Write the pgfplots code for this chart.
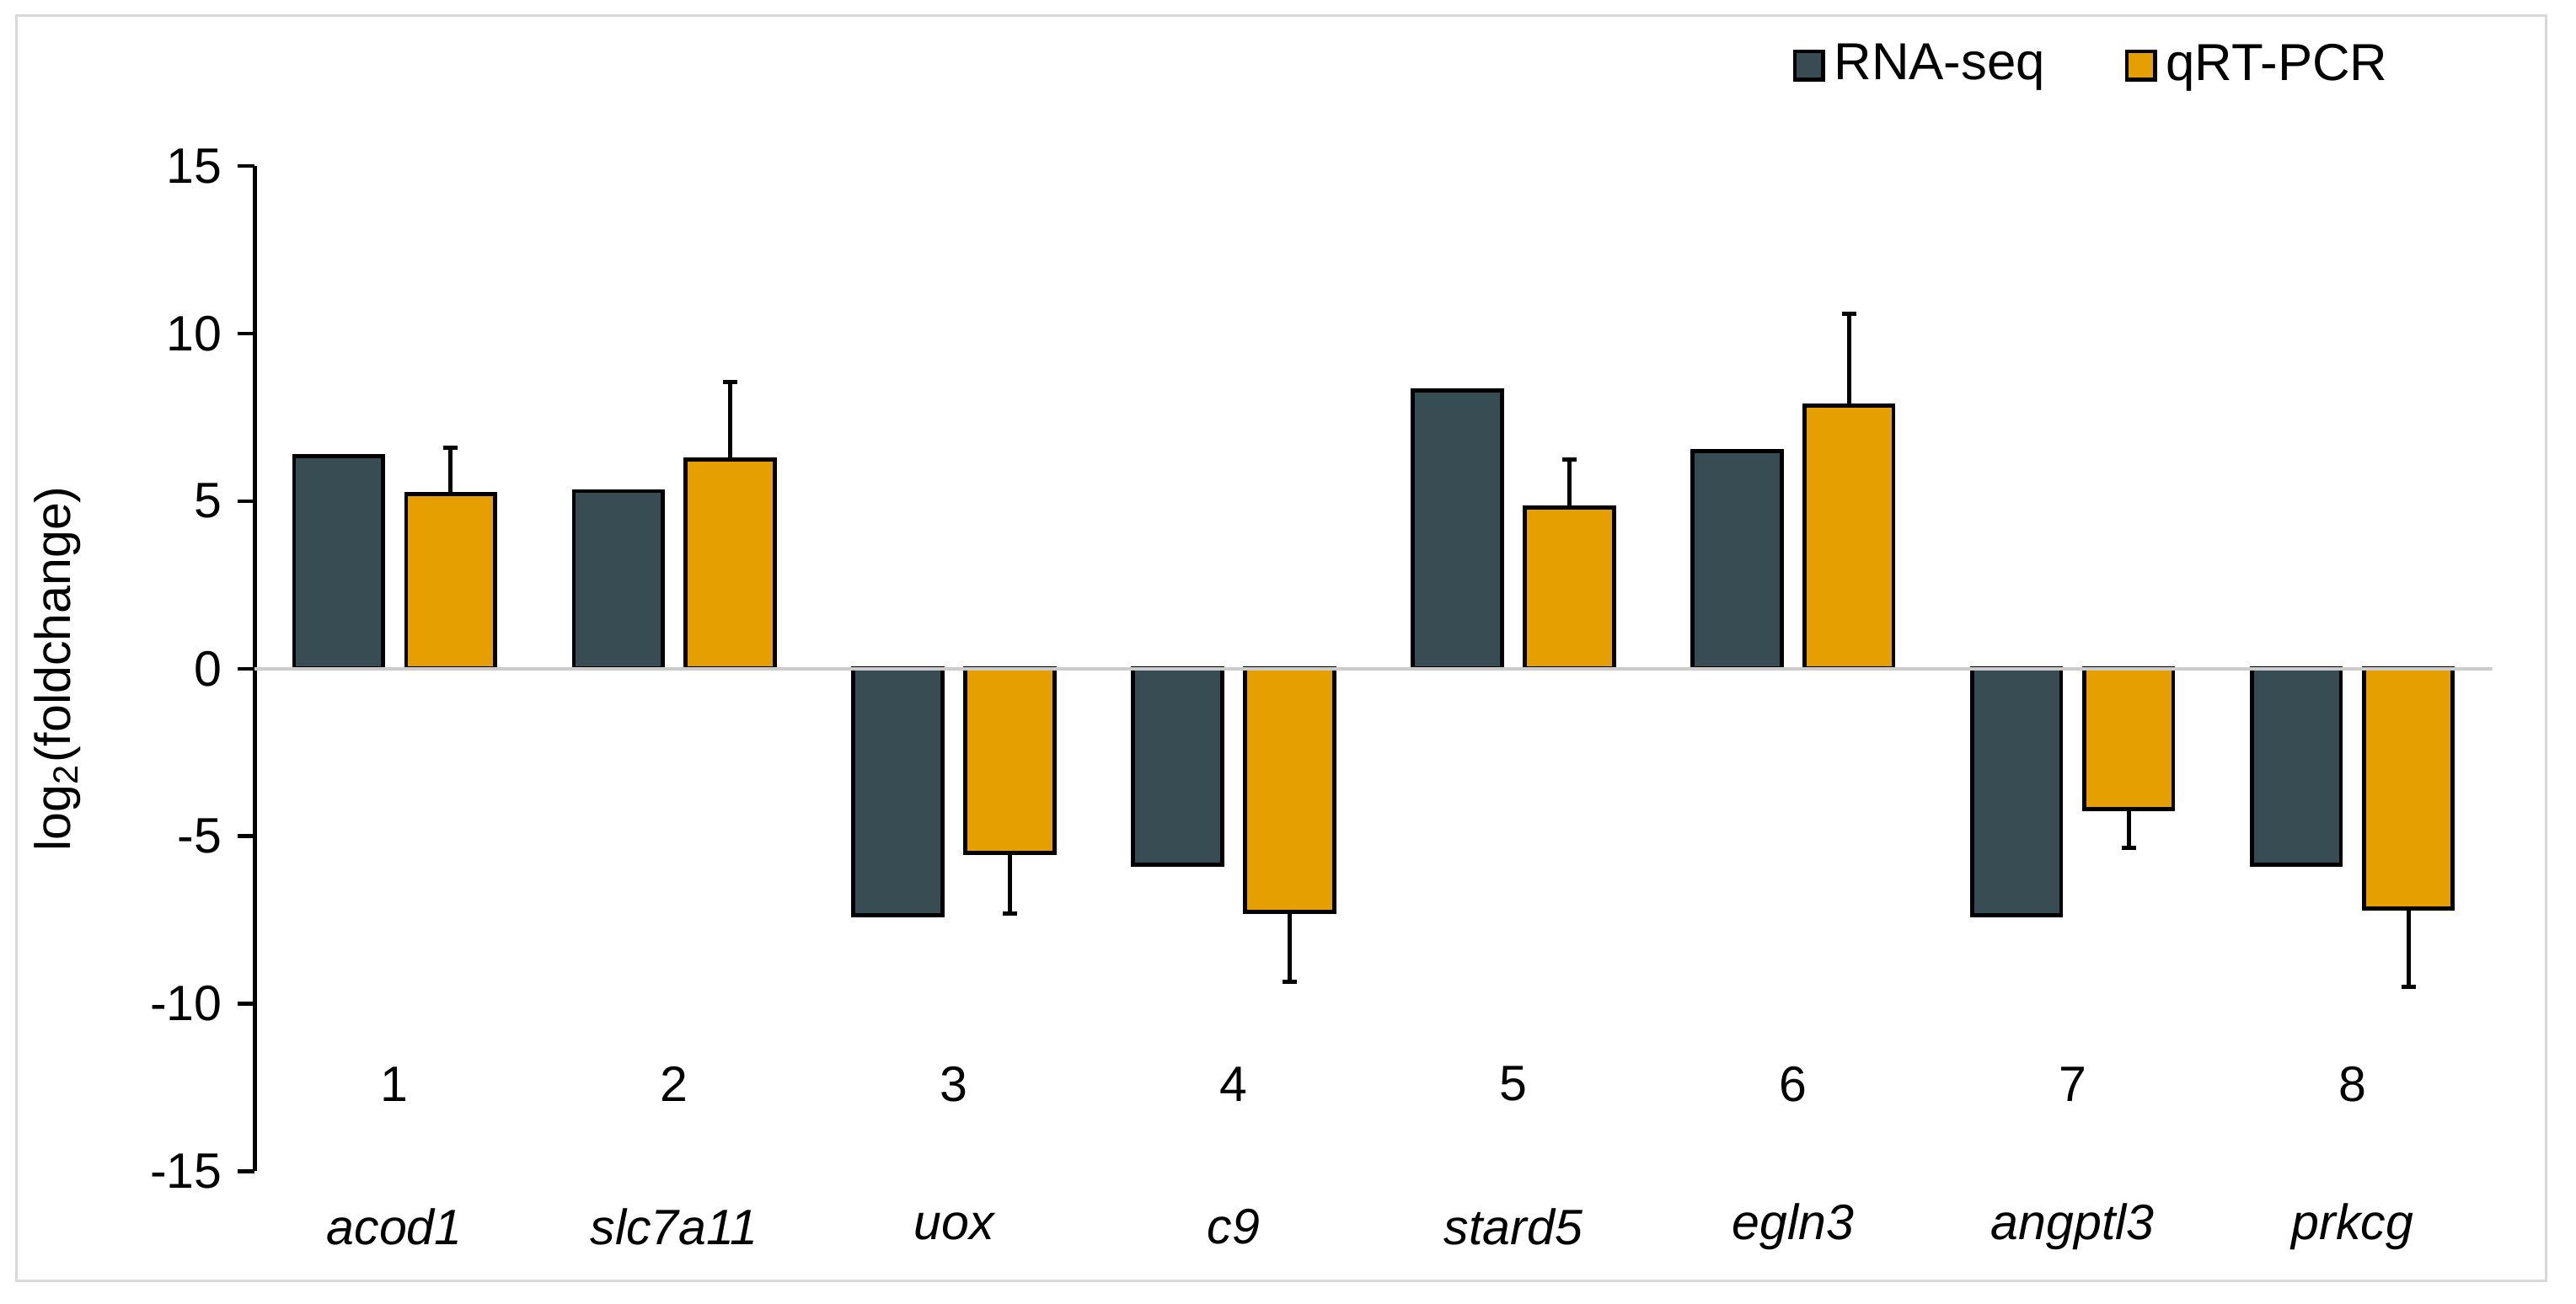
\documentclass[border=0pt]{standalone}
\usepackage{fontspec}
\setmainfont{Liberation Sans}
\usepackage{pgfplots}
\pgfplotsset{compat=1.18}

\definecolor{rnaseq}{RGB}{56,77,83}
\definecolor{qrtpcr}{RGB}{229,160,0}

\begin{document}
\begin{tikzpicture}
\path[use as bounding box] (-1.978,-1.03) rectangle (18.03,9.10);
\draw[black!15, line width=0.6pt] (-1.85,-0.85) rectangle (17.8,8.98);
\begin{axis}[
    scale only axis,
    width=17.38cm, height=7.81cm,
    xmin=0.5, xmax=8.5,
    ymin=-15, ymax=15,
    ybar=0.18cm, bar width=0.69cm,
    axis lines*=left,
    x axis line style={draw=none},
    y axis line style={line width=1pt},
    ytick={-15,-10,...,15},
    xtick={1,...,8},
    xticklabels={acod1,slc7a11,uox,c9,stard5,egln3,angptl3,prkcg},
    xticklabel style={font=\itshape\fontsize{11}{13}\selectfont, anchor=center, yshift=-0.30cm},
    yticklabel style={font=\fontsize{11}{13}\selectfont},
    major x tick style={draw=none},
    tick align=outside,
    major tick length=0.13cm,
    y tick style={line width=0.8pt, black},
    /pgf/number format/assume math mode=true,
    ylabel={log\textsubscript{2}(foldchange)},
    ylabel style={at={(axis description cs:-0.088,0.5)}, anchor=center, font=\fontsize{11}{13}\selectfont},
    legend columns=2,
    legend style={draw=none, at={(0.681,1.10)}, anchor=west,
        font=\fontsize{11.5}{13}\selectfont,
        /tikz/every even column/.append style={column sep=0.55cm}},
    legend image code/.code={\draw[#1, line width=0.8pt] (0cm,-0.11cm) rectangle (0.22cm,0.11cm);},
]

\addplot[fill=rnaseq, draw=black, line width=0.9pt] coordinates {
    (1,6.35) (2,5.3) (3,-7.35) (4,-5.85) (5,8.3) (6,6.5) (7,-7.35) (8,-5.85)
};
\addlegendentry{RNA-seq}

\addplot[fill=qrtpcr, draw=black, line width=0.9pt,
    error bars/.cd, y dir=both, y explicit,
    error bar style={line width=0.9pt, black},
    error mark options={rotate=90, mark size=1.6pt, line width=0.9pt, black}]
coordinates {
    (1,5.2)   += (0,1.4)  -= (0,0)
    (2,6.25)  += (0,2.3)  -= (0,0)
    (3,-5.5)  += (0,0)    -= (0,1.8)
    (4,-7.25) += (0,0)    -= (0,2.1)
    (5,4.8)   += (0,1.45) -= (0,0)
    (6,7.85)  += (0,2.75) -= (0,0)
    (7,-4.2)  += (0,0)    -= (0,1.15)
    (8,-7.15) += (0,0)    -= (0,2.35)
};
\addlegendentry{qRT-PCR}

% zero line
\addplot[sharp plot, black!20, line width=0.8pt, forget plot] coordinates {(0.5,0) (8.5,0)};

% group numbers inside the plot area
\pgfplotsinvokeforeach{1,...,8}{
    \node[font=\fontsize{11}{13}\selectfont] at (axis cs:#1,-12.4) {#1};
}
\end{axis}
\end{tikzpicture}
\end{document}
